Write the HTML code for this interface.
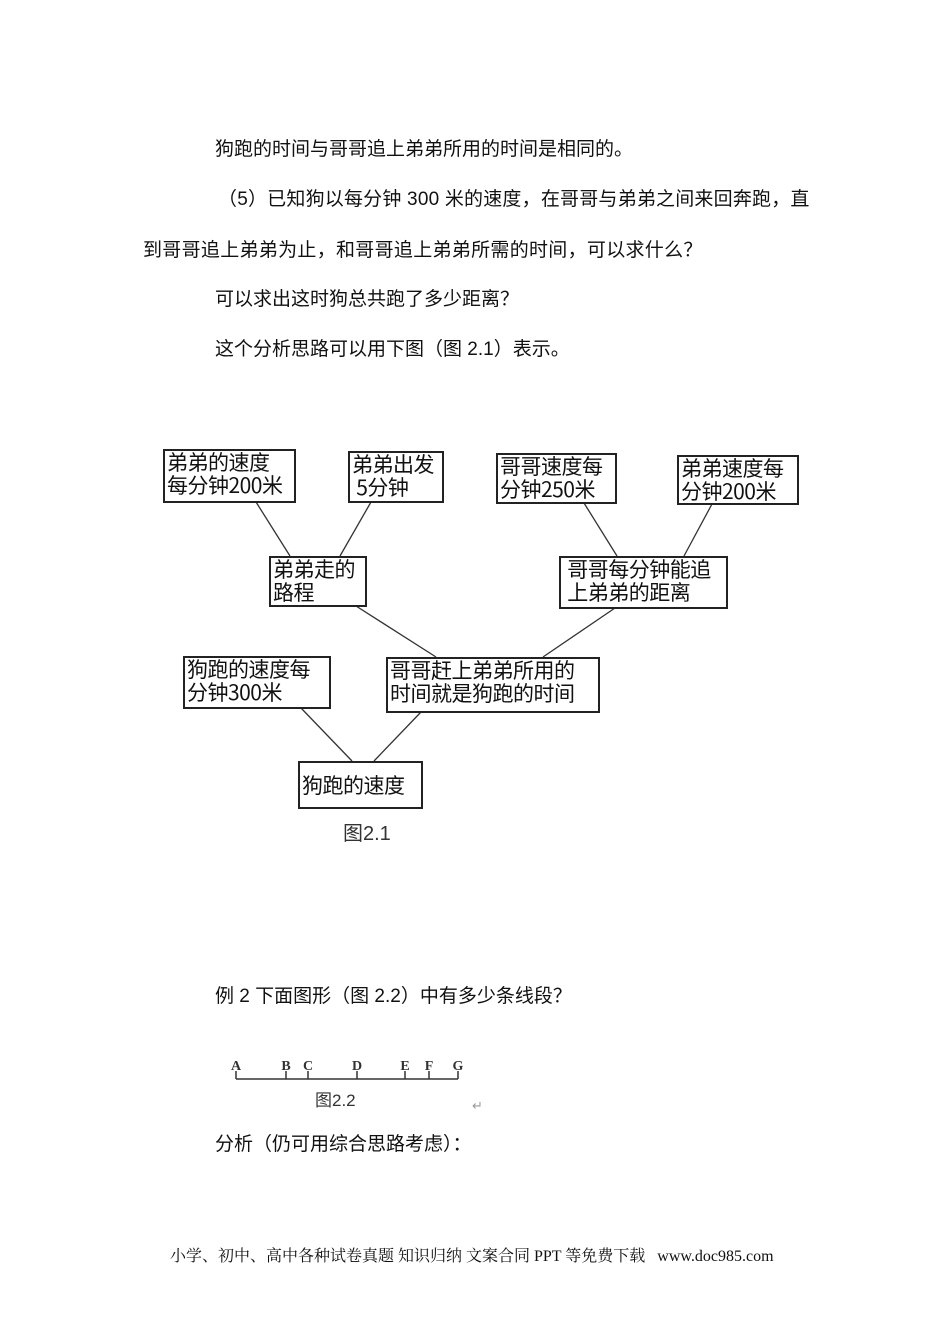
<!DOCTYPE html>
<html><head><meta charset="utf-8">
<style>
body{margin:0;background:#fff;}
#p{position:relative;width:950px;height:1344px;overflow:hidden;background:#fff;font-family:"Liberation Sans","Noto Sans CJK SC",sans-serif;color:#111;}
.t{position:absolute;white-space:nowrap;font-size:19px;line-height:22px;}
.b{position:absolute;border:2px solid #222;box-sizing:border-box;font-family:"WenQuanYi Zen Hei","Noto Sans CJK SC",sans-serif;font-size:21px;line-height:23px;padding:0px 2px;white-space:nowrap;color:#111;letter-spacing:-0.5px;}
svg{position:absolute;left:0;top:0;}
</style></head><body><div id="p">
<div class="t" style="left:215px;top:139px;">狗跑的时间与哥哥追上弟弟所用的时间是相同的。</div>
<div class="t" style="left:218px;top:189px;letter-spacing:0.2px;">（5）已知狗以每分钟 300 米的速度，在哥哥与弟弟之间来回奔跑，直</div>
<div class="t" style="left:143px;top:240px;letter-spacing:0.3px;">到哥哥追上弟弟为止，和哥哥追上弟弟所需的时间，可以求什么？</div>
<div class="t" style="left:215px;top:289px;">可以求出这时狗总共跑了多少距离？</div>
<div class="t" style="left:215px;top:339px;">这个分析思路可以用下图（图 2.1）表示。</div>

<svg width="950" height="1344">
<g stroke="#333" stroke-width="1.3">
<line x1="256" y1="502" x2="290" y2="556"/>
<line x1="371" y1="502" x2="340" y2="556"/>
<line x1="584" y1="503" x2="617" y2="556"/>
<line x1="712" y1="504" x2="684" y2="556"/>
<line x1="356" y1="606" x2="436" y2="657"/>
<line x1="615" y1="608" x2="543" y2="657"/>
<line x1="301" y1="708" x2="352" y2="761"/>
<line x1="421" y1="712" x2="374" y2="761"/>
</g>
<g stroke="#333" stroke-width="1.5">
<line x1="236" y1="1079" x2="458" y2="1079"/>
<line x1="236" y1="1071" x2="236" y2="1079"/>
<line x1="286" y1="1071" x2="286" y2="1079"/>
<line x1="308" y1="1071" x2="308" y2="1079"/>
<line x1="357" y1="1071" x2="357" y2="1079"/>
<line x1="405" y1="1071" x2="405" y2="1079"/>
<line x1="429" y1="1071" x2="429" y2="1079"/>
<line x1="458" y1="1071" x2="458" y2="1079"/>
</g>
<g font-family="Liberation Serif,serif" font-size="14" font-weight="bold" fill="#333" text-anchor="middle">
<text x="236" y="1070">A</text><text x="286" y="1070">B</text><text x="308" y="1070">C</text><text x="357" y="1070">D</text><text x="405" y="1070">E</text><text x="429" y="1070">F</text><text x="458" y="1070">G</text>
</g>
<text x="315" y="1106" font-family="WenQuanYi Zen Hei,sans-serif" font-size="17" fill="#333">图2.2</text>
<text x="472" y="1110" font-size="13" fill="#999">↵</text>
<text x="343" y="840" font-family="WenQuanYi Zen Hei,sans-serif" font-size="20" fill="#333">图2.1</text>
</svg>

<div class="b" style="left:163px;top:449px;width:133px;height:54px;">弟弟的速度<br>每分钟200米</div>
<div class="b" style="left:348px;top:451px;width:96px;height:52px;">弟弟出发<br>&nbsp;5分钟</div>
<div class="b" style="left:496px;top:453px;width:121px;height:51px;">哥哥速度每<br>分钟250米</div>
<div class="b" style="left:677px;top:455px;width:122px;height:50px;">弟弟速度每<br>分钟200米</div>
<div class="b" style="left:269px;top:556px;width:98px;height:51px;">弟弟走的<br>路程</div>
<div class="b" style="left:559px;top:556px;width:169px;height:53px;">&nbsp;哥哥每分钟能追<br>&nbsp;上弟弟的距离</div>
<div class="b" style="left:183px;top:656px;width:148px;height:53px;">狗跑的速度每<br>分钟300米</div>
<div class="b" style="left:386px;top:657px;width:214px;height:56px;">哥哥赶上弟弟所用的<br>时间就是狗跑的时间</div>
<div class="b" style="left:298px;top:761px;width:125px;height:48px;padding-top:11px;">狗跑的速度</div>

<div class="t" style="left:215px;top:986px;">例 2 下面图形（图 2.2）中有多少条线段？</div>
<div class="t" style="left:215px;top:1134px;">分析（仍可用综合思路考虑）：</div>
<div class="t" style="left:170px;top:1246px;font-family:'Liberation Serif','Noto Serif CJK SC',serif;font-size:16px;">小学、初中、高中各种试卷真题 知识归纳 文案合同 PPT 等免费下载&nbsp;&nbsp;&nbsp;www.doc985.com</div>
</div></body></html>
